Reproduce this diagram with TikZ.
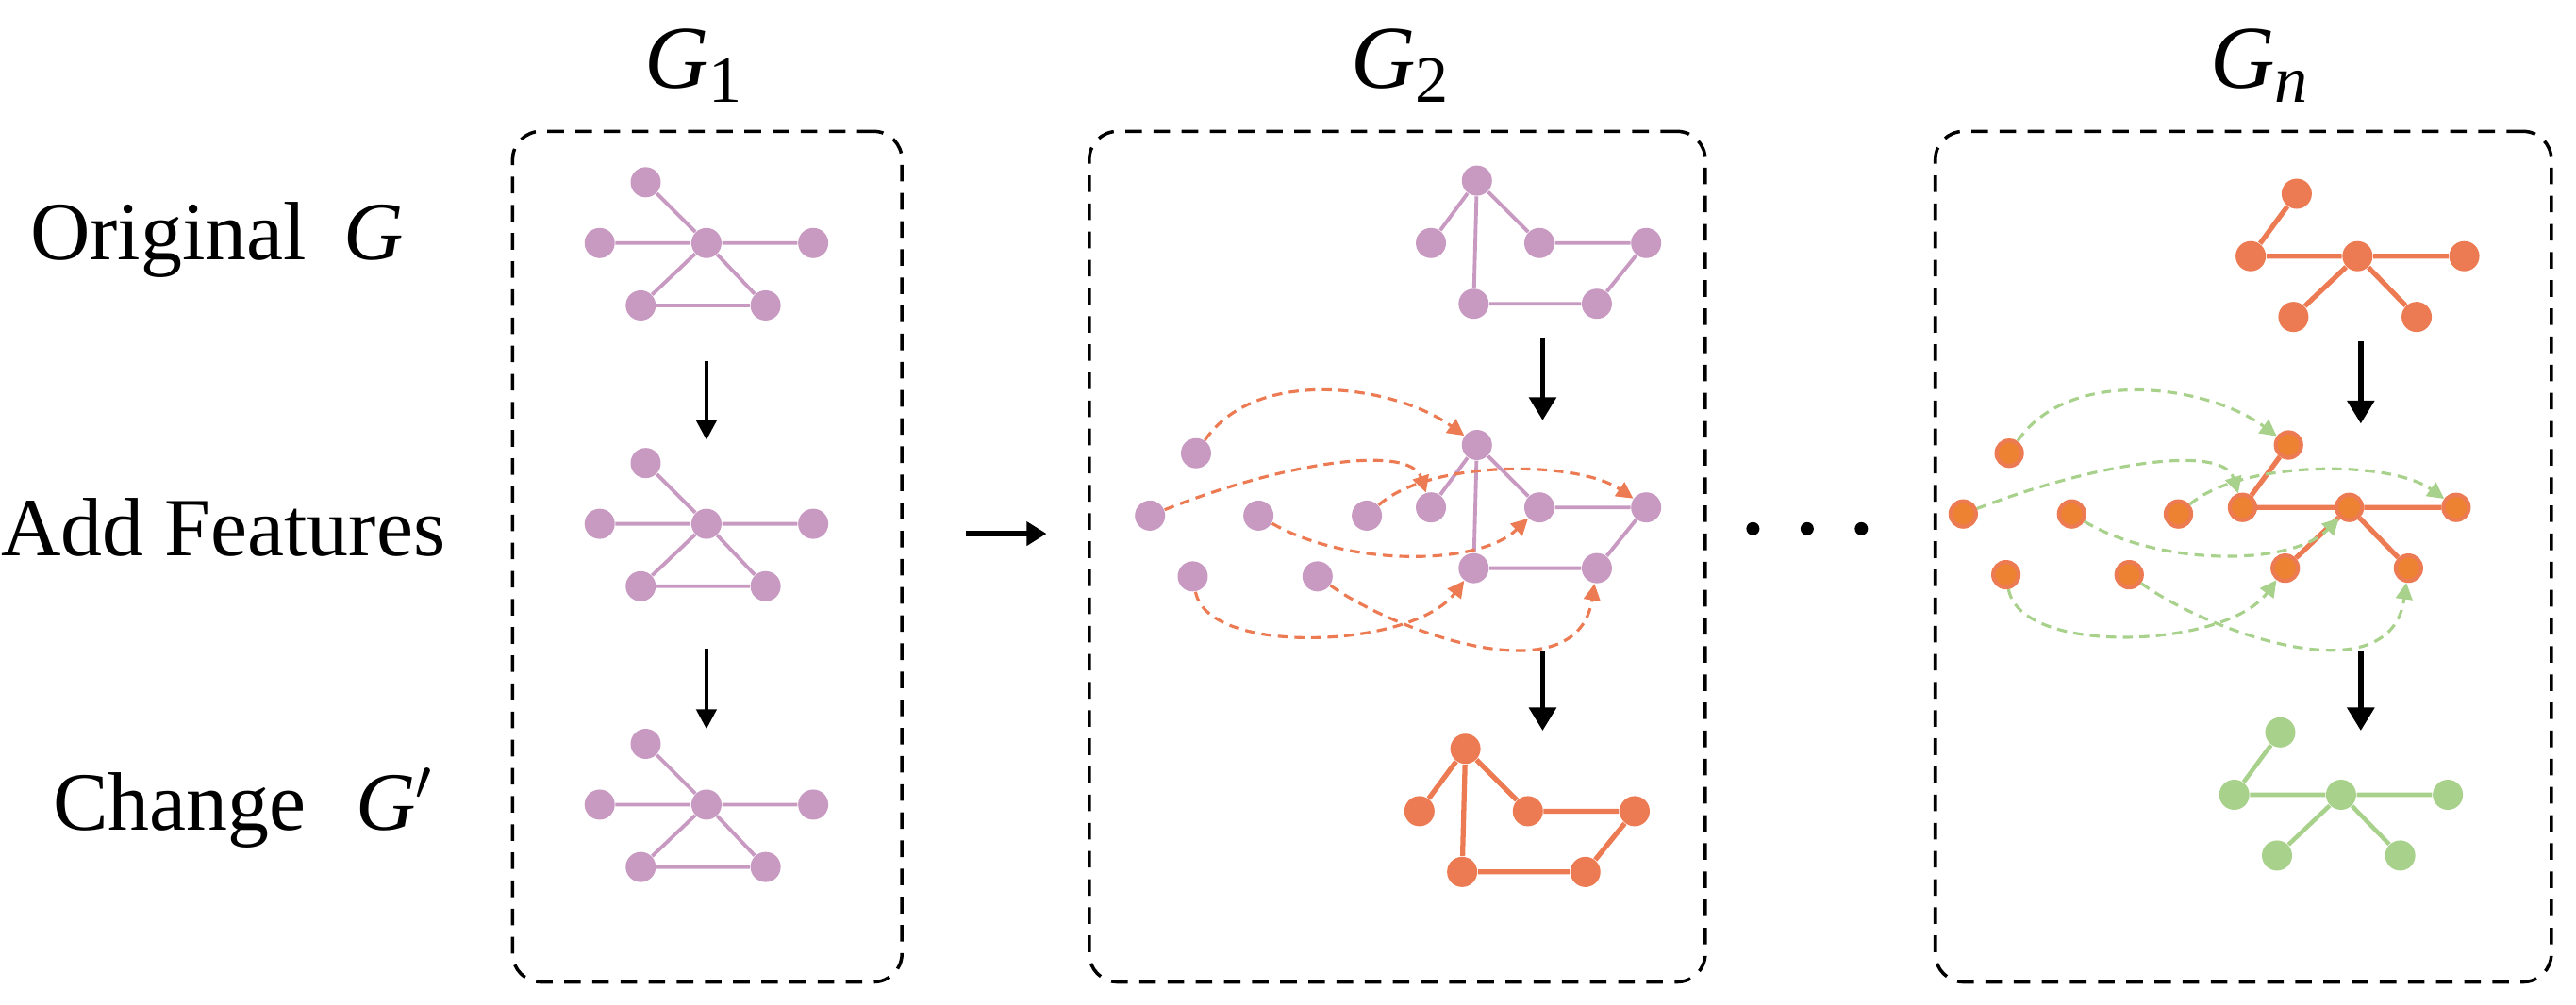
\documentclass[tikz,border=0pt]{standalone}
\usepackage{fontspec}
\setmainfont{Liberation Serif}
\usetikzlibrary{arrows.meta}
\definecolor{lav}{HTML}{C89AC2}
\definecolor{org}{HTML}{EC7A52}
\definecolor{orgd}{HTML}{EE8233}
\definecolor{grn}{HTML}{A8D18C}
\begin{document}
\begin{tikzpicture}[x=0.01742cm,y=-0.01742cm,
  n/.style={circle,inner sep=0,minimum size=0.32cm},
  lv/.style={n,fill=lav}, og/.style={n,fill=org}, gn/.style={n,fill=grn},
  od/.style={n,fill=orgd,draw=org,line width=1.2pt,minimum size=0.27cm},
  le/.style={lav,line width=1.1pt}, oe/.style={org,line width=1.5pt}, ge/.style={grn,line width=1.3pt},
  box/.style={draw,dashed,line width=1pt,rounded corners=0.3cm,dash pattern=on 5pt off 3.5pt},
  bar/.style={line width=1.6pt,-{Triangle[width=8pt,length=7pt]}},
  bars/.style={line width=1.3pt,-{Triangle[width=6pt,length=6pt]}},
  dc/.style={org,dashed,line width=0.9pt,dash pattern=on 3pt off 2pt,-{Triangle[width=5pt,length=5pt]}},
  dg/.style={grn,dashed,line width=0.9pt,dash pattern=on 3pt off 2pt,-{Triangle[width=5pt,length=5pt]}},
  lab/.style={font=\fontsize{25}{28}\selectfont},
  ttl/.style={font=\fontsize{27}{30}\selectfont}]
\useasboundingbox (0,0) rectangle (1568,612);
% labels
\node[lab] (l1) at (132,146) {Original\hspace{0.45em}\textit{G}};
\node[lab] (l2) at (136,321) {Add Features};
\node[lab] (l3) at (148,492) {Change\hspace{0.6em}\textit{G}$'$};
\node[ttl] (t1) at (422,40) {\textit{G}\raisebox{-0.35ex}{\fontsize{20}{20}\selectfont 1}};
\node[ttl] (t2) at (852,40) {\textit{G}\raisebox{-0.35ex}{\fontsize{20}{20}\selectfont 2}};
\node[ttl] (t3) at (1375,40) {\textit{G}\raisebox{-0.35ex}{\fontsize{20}{20}\selectfont\itshape n}};
% boxes
\node[box,minimum width=237*0.01742cm,minimum height=518*0.01742cm] (b1) at (430.5,339) {};
\node[box,minimum width=375*0.01742cm,minimum height=518*0.01742cm] (b2) at (850.5,339) {};
\node[box,minimum width=375*0.01742cm,minimum height=518*0.01742cm] (b3) at (1365.5,339) {};
% between arrow and dots
\coordinate (ba) at (588,325); \coordinate (bb) at (637,325);
\draw[line width=1.6pt,-{Triangle[width=7pt,length=6pt]}] (ba) -- (bb);
\foreach \i/\x in {1/1067,2/1100,3/1133} \node[circle,fill=black,inner sep=0,minimum size=0.14cm] (d\i) at (\x,322) {};
% G1 three graphs
\foreach \k/\dy in {a/0,b/171,c/342}{
 \node[lv] (g\k1) at (393,111+\dy) {};
 \node[lv] (g\k2) at (365,148+\dy) {};
 \node[lv] (g\k3) at (430,148+\dy) {};
 \node[lv] (g\k4) at (495,148+\dy) {};
 \node[lv] (g\k5) at (390,186+\dy) {};
 \node[lv] (g\k6) at (466,186+\dy) {};
 \draw[le] (g\k1)--(g\k3) (g\k2)--(g\k3)--(g\k4) (g\k3)--(g\k5)--(g\k6)--(g\k3);
}
\coordinate (u1) at (430,220); \coordinate (u2) at (430,268);
\coordinate (u3) at (430,395); \coordinate (u4) at (430,444);
\draw[bars] (u1)--(u2); \draw[bars] (u3)--(u4);
% G2
\foreach \k/\dy/\dx/\st in {a/0/0/lv,b/161/0/lv,c/346/-7/og}{
 \node[\st] (h\k1) at (899+\dx,110+\dy) {};
 \node[\st] (h\k2) at (871+\dx,148+\dy) {};
 \node[\st] (h\k3) at (937+\dx,148+\dy) {};
 \node[\st] (h\k4) at (1002+\dx,148+\dy) {};
 \node[\st] (h\k5) at (897+\dx,185+\dy) {};
 \node[\st] (h\k6) at (972+\dx,185+\dy) {};
}
\draw[le] (ha1)--(ha2) (ha1)--(ha5) (ha1)--(ha3)--(ha4)--(ha6)--(ha5);
\draw[le] (hb1)--(hb2) (hb1)--(hb5) (hb1)--(hb3)--(hb4)--(hb6)--(hb5);
\draw[oe] (hc1)--(hc2) (hc1)--(hc5) (hc1)--(hc3)--(hc4)--(hc6)--(hc5);
\node[lv] (p1) at (728,276) {};
\node[lv] (p2) at (700,314) {};
\node[lv] (p3) at (766,314) {};
\node[lv] (p4) at (832,314) {};
\node[lv] (p5) at (726,351) {};
\node[lv] (p6) at (802,351) {};
\draw[dc] (p1) .. controls (765,222) and (850,235) .. (hb1);
\draw[dc] (p2) .. controls (780,282) and (858,270) .. (hb2);
\draw[dc] (p4) .. controls (870,280) and (960,280) .. (hb4);
\draw[dc] (p3) .. controls (820,345) and (900,345) .. (hb3);
\draw[dc] (p5) .. controls (735,400) and (860,395) .. (hb5);
\draw[dc] (p6) .. controls (850,385) and (960,425) .. (hb6);
\coordinate (v1) at (939,206); \coordinate (v2) at (939,256);
\coordinate (v3) at (939,397); \coordinate (v4) at (939,445);
\draw[bar] (v1)--(v2); \draw[bar] (v3)--(v4);
% Gn
\foreach \k/\dy/\dx/\st in {a/0/0/og,b/153/-5/od,c/328/-10/gn}{
 \node[\st] (m\k1) at (1398+\dx,118+\dy) {};
 \node[\st] (m\k2) at (1370+\dx,156+\dy) {};
 \node[\st] (m\k3) at (1435+\dx,156+\dy) {};
 \node[\st] (m\k4) at (1500+\dx,156+\dy) {};
 \node[\st] (m\k5) at (1396+\dx,193+\dy) {};
 \node[\st] (m\k6) at (1471+\dx,193+\dy) {};
}
\draw[oe] (ma1)--(ma2)--(ma3)--(ma4) (ma5)--(ma3)--(ma6);
\draw[oe] (mb1)--(mb2)--(mb3)--(mb4) (mb5)--(mb3)--(mb6);
\draw[ge] (mc1)--(mc2)--(mc3)--(mc4) (mc5)--(mc3)--(mc6);
\node[od] (q1) at (1223,276) {};
\node[od] (q2) at (1195,313) {};
\node[od] (q3) at (1261,313) {};
\node[od] (q4) at (1326,313) {};
\node[od] (q5) at (1221,350) {};
\node[od] (q6) at (1296,350) {};
\draw[dg] (q1) .. controls (1260,222) and (1345,235) .. (mb1);
\draw[dg] (q2) .. controls (1275,282) and (1353,270) .. (mb2);
\draw[dg] (q4) .. controls (1365,280) and (1455,280) .. (mb4);
\draw[dg] (q3) .. controls (1315,345) and (1395,345) .. (mb3);
\draw[dg] (q5) .. controls (1230,400) and (1355,395) .. (mb5);
\draw[dg] (q6) .. controls (1345,385) and (1455,425) .. (mb6);
\coordinate (w1) at (1437,208); \coordinate (w2) at (1437,258);
\coordinate (w3) at (1437,397); \coordinate (w4) at (1437,445);
\draw[bar] (w1)--(w2); \draw[bar] (w3)--(w4);
\end{tikzpicture}
\end{document}
